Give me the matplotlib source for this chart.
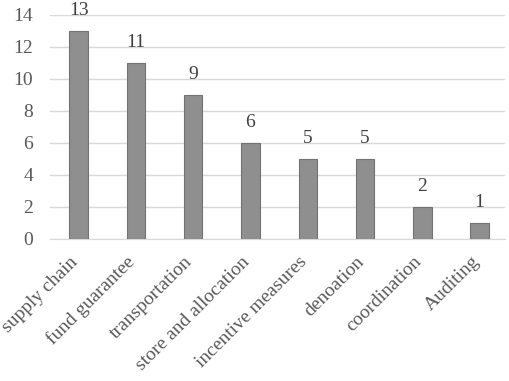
import matplotlib
matplotlib.use("Agg")
import matplotlib.pyplot as plt
from matplotlib.transforms import ScaledTranslation

categories = ["supply chain", "fund guarantee", "transportation", "store and allocation",
              "incentive measures", "denoation", "coordination", "Auditing"]
values = [13, 11, 9, 6, 5, 5, 2, 1]
yticks = [0, 2, 4, 6, 8, 10, 12, 14]

plt.rcParams['font.family'] = ['Liberation Serif', 'DejaVu Serif']
txt = '#595959'

fig = plt.figure(figsize=(5.10, 3.81), dpi=100)
ax = fig.add_axes([0.098, 0.373, 0.893, 0.588])
x = list(range(len(categories)))
ax.bar(x, values, width=0.32, color='#8f8f8f', edgecolor='#727272', linewidth=0.8, zorder=3)
for xi, v in zip(x, values):
    ax.text(xi, v + 0.75, str(v), ha='center', va='bottom', fontsize=14, color='#404040')
ax.set_ylim(0, 14)
ax.set_xlim(-0.5, 7.45)
ax.set_yticks(yticks)
ax.set_yticklabels([str(t) for t in yticks], fontsize=14, color=txt)
ax.yaxis.grid(True, color='#d9d9d9', linewidth=1.0, zorder=0)
ax.set_xticks(x)
labels = ax.set_xticklabels(categories, rotation=45, ha='right', va='baseline',
                            rotation_mode='anchor', fontsize=14, color=txt)
offset = ScaledTranslation(0.085, 0, fig.dpi_scale_trans)
for lab in labels:
    lab.set_transform(lab.get_transform() + offset)
for s in ['top', 'right', 'left']:
    ax.spines[s].set_visible(False)
ax.spines['bottom'].set_color('#d9d9d9')
ax.tick_params(axis='both', length=0)
ax.tick_params(axis='x', pad=17)
ax.tick_params(axis='y', pad=12)
fig.savefig('out.png', dpi=100)
